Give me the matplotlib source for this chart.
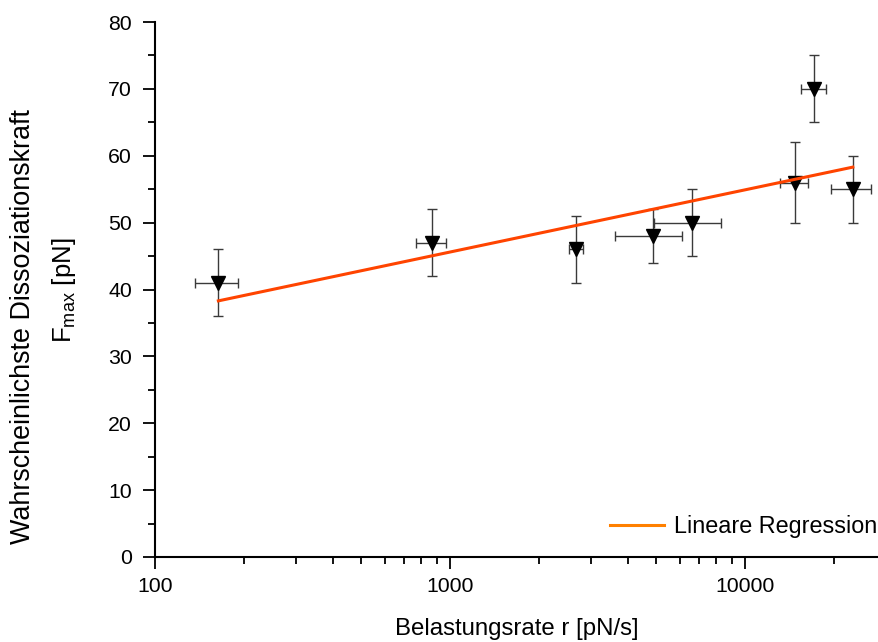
import matplotlib
matplotlib.use("Agg")
import matplotlib.pyplot as plt
import numpy as np

plt.rcParams['font.family'] = ['Liberation Sans', 'DejaVu Sans']

# data
rate = [164, 869, 2673, 4876, 6607, 14760, 17150, 23200]
rate_err = [27, 100, 150, 1250, 1700, 1600, 1700, 3600]
force = [41, 47, 46, 48, 50, 56, 70, 55]
force_err = [5, 5, 5, 4, 5, 6, 5, 5]

reg_x = [164, 23200]
reg_y = [38.3, 58.3]

x_ticks = [100, 1000, 10000]
x_ticklabels = ['100', '1000', '10000']
y_ticks = [0, 10, 20, 30, 40, 50, 60, 70, 80]

W, H = 879, 642
fig = plt.figure(figsize=(W/100, H/100), dpi=100)
ax = fig.add_axes([155/W, 85/H, 1 - 155/W, (557-22)/H])

ax.errorbar(rate, force, yerr=force_err, xerr=rate_err, fmt='none',
            ecolor='#3a3a3a', elinewidth=1.0, capsize=3.6, capthick=1.0, zorder=2)
ax.plot(rate, force, linestyle='none', marker='v', markersize=10,
        color='black', zorder=3)
ax.plot(reg_x, reg_y, color='#ff4400', linewidth=2.2, zorder=4, label='_nolegend_')
ax.plot([], [], color='#ff8000', linewidth=2.2, label='Lineare Regression')

ax.set_xscale('log')
ax.set_xlim(100, 10**(2 + (W-155)/295))
ax.set_ylim(0, 80)
ax.set_xticks(x_ticks)
ax.set_xticklabels(x_ticklabels)
ax.set_yticks(y_ticks)
ax.set_yticks(np.arange(5, 80, 10), minor=True)
ax.xaxis.set_minor_locator(matplotlib.ticker.LogLocator(base=10, subs=np.arange(2, 10)))
ax.xaxis.set_minor_formatter(matplotlib.ticker.NullFormatter())

for s in ['top', 'right']:
    ax.spines[s].set_visible(False)
for s in ['left', 'bottom']:
    ax.spines[s].set_linewidth(1.5)

ax.tick_params(axis='both', which='major', direction='out', length=8.6, width=1.3,
               labelsize=15.3, colors='black')
ax.tick_params(axis='both', which='minor', direction='out', length=5, width=1.3)
ax.tick_params(axis='x', pad=6)
ax.tick_params(axis='y', pad=8)

ax.set_xlabel('Belastungsrate r [pN/s]', fontsize=17.3, labelpad=16)

fig.text(23/W, 1 - 327/H, 'Wahrscheinlichste Dissoziationskraft', rotation=90,
         fontsize=19.4, ha='center', va='center')
fig.text(64/W, 1 - 290/H, r'F$_{\mathregular{max}}$ [pN]', rotation=90,
         fontsize=18.5, ha='center', va='center')

leg = ax.legend(loc='lower right', frameon=False, fontsize=16.8, handlelength=2.3,
                handletextpad=0.45, borderpad=0, borderaxespad=0,
                bbox_to_anchor=(0.998, 0.035))

fig.savefig('out.png', dpi=100)
